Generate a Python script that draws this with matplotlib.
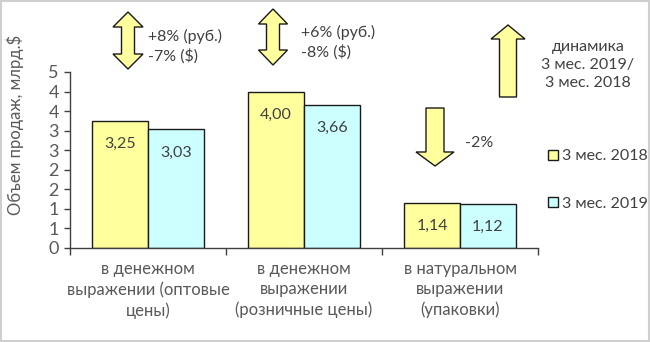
import matplotlib
matplotlib.use("Agg")
import matplotlib.pyplot as plt
from matplotlib.patches import Polygon, Rectangle, Patch
import numpy as np

plt.rcParams['font.family'] = ['Lato', 'DejaVu Sans']

categories = ["в денежном\nвыражении (оптовые\nцены)",
              "в денежном\nвыражении\n(розничные цены)",
              "в натуральном\nвыражении\n(упаковки)"]
series_names = ["3 мес. 2018", "3 мес. 2019"]
values_2018 = [3.25, 4.00, 1.14]
values_2019 = [3.03, 3.66, 1.12]
labels_2018 = ["3,25", "4,00", "1,14"]
labels_2019 = ["3,03", "3,66", "1,12"]
yticks = [0, 0.5, 1, 1.5, 2, 2.5, 3, 3.5, 4, 4.5]
ytick_labels = ["0", "1", "1", "2", "2", "3", "3", "4", "4", "5"]
ylabel = "Объем продаж, млрд.$"
change_texts = ["+8% (руб.)\n-7% ($)", "+6% (руб.)\n-8% ($)", "-2%"]
note_text = "динамика\n3 мес. 2019/\n3 мес. 2018"

W, H = 650, 342
YEL = "#FFFF9E"
CYA = "#CCFFFF"
GRAY = "#595959"
DARK = "#404040"

fig = plt.figure(figsize=(W / 100, H / 100), dpi=100)
ax = fig.add_axes([70 / W, 1 - 248 / H, (538 - 70) / W, (248 - 72) / H])

x = np.arange(len(categories))
bw = 0.356
b1 = ax.bar(x - bw / 2, values_2018, bw, color=YEL, edgecolor="#1a1a1a", linewidth=1.0)
b2 = ax.bar(x + bw / 2, values_2019, bw, color=CYA, edgecolor="#1a1a1a", linewidth=1.0)

for bars, labs in ((b1, labels_2018), (b2, labels_2019)):
    for r, t in zip(bars, labs):
        ax.annotate(t, (r.get_x() + r.get_width() / 2, r.get_height()),
                    xytext=(0, -16.5), textcoords="offset points",
                    ha="center", va="center", fontsize=11.5, color=DARK)

ax.set_xlim(-0.5, 2.5)
ax.set_ylim(0, 4.5)
ax.set_yticks(yticks)
ax.set_yticklabels(ytick_labels)
ax.set_xticks([-0.5, 0.5, 1.5, 2.5])
ax.set_xticklabels([])
ax.tick_params(axis="x", direction="out", length=5, width=1, color="#404040")
ax.tick_params(axis="y", direction="out", length=4, width=1, color="#404040",
               labelsize=13, labelcolor=GRAY, pad=4)
for s in ("top", "right"):
    ax.spines[s].set_visible(False)
for s in ("left", "bottom"):
    ax.spines[s].set_color("#404040")
    ax.spines[s].set_linewidth(1)

for xi, c in zip(x, categories):
    ax.text(xi, -0.34, c, ha="center", va="top", fontsize=12, color=GRAY,
            linespacing=1.3, transform=ax.transData)

fig.text(15 / W, 1 - 125 / H, ylabel, rotation=90, ha="center", va="center",
         fontsize=12, color=GRAY)

# decorative arrows (pixel coords -> figure fraction)
def to_fig(pts):
    return [(px / W, 1 - py / H) for px, py in pts]

def up_arrow(cx, top, bot, hw, sw, hh):
    return [(cx, top), (cx + hw / 2, top + hh), (cx + sw / 2, top + hh),
            (cx + sw / 2, bot), (cx - sw / 2, bot), (cx - sw / 2, top + hh),
            (cx - hw / 2, top + hh)]

def down_arrow(cx, top, bot, hw, sw, hh):
    return [(cx - sw / 2, top), (cx + sw / 2, top), (cx + sw / 2, bot - hh),
            (cx + hw / 2, bot - hh), (cx, bot), (cx - hw / 2, bot - hh),
            (cx - sw / 2, bot - hh)]

def double_arrow(cx, top, bot, hw, sw, hh):
    return [(cx, top), (cx + hw / 2, top + hh), (cx + sw / 2, top + hh),
            (cx + sw / 2, bot - hh), (cx + hw / 2, bot - hh), (cx, bot),
            (cx - hw / 2, bot - hh), (cx - sw / 2, bot - hh),
            (cx - sw / 2, top + hh), (cx - hw / 2, top + hh)]

shapes = [double_arrow(128, 12, 69, 30, 13, 15),
          double_arrow(273, 9, 65, 29, 13, 15),
          up_arrow(508, 25, 97, 34, 17, 14),
          down_arrow(435, 108, 166, 38, 18, 14)]
for sh in shapes:
    fig.patches.append(Polygon(to_fig(sh), closed=True, transform=fig.transFigure,
                               facecolor=YEL, edgecolor="#1a1a1a", linewidth=1.0))

fig.text(148 / W, 1 - 46 / H, change_texts[0], ha="left", va="center",
         fontsize=11.5, color=DARK, linespacing=1.35)
fig.text(301 / W, 1 - 42 / H, change_texts[1], ha="left", va="center",
         fontsize=11.5, color=DARK, linespacing=1.35)
fig.text(465 / W, 1 - 143 / H, change_texts[2], ha="left", va="center",
         fontsize=11.5, color=DARK)
fig.text(588 / W, 1 - 65 / H, note_text, ha="center", va="center",
         fontsize=11.5, color=DARK, linespacing=1.35)

handles = [Patch(facecolor=YEL, edgecolor="#1a1a1a", linewidth=1.0),
           Patch(facecolor=CYA, edgecolor="#1a1a1a", linewidth=1.0)]
fig.legend(handles, series_names, loc="center left",
           bbox_to_anchor=(548 / W, 1 - 180 / H), frameon=False,
           handlelength=0.6, handleheight=0.6, handletextpad=0.25,
           labelspacing=2.1, borderpad=0, borderaxespad=0,
           prop={"size": 11.5}, labelcolor=DARK)

fig.patches.append(Rectangle((0.001, 0.002), 0.997, 0.995, transform=fig.transFigure,
                             fill=False, edgecolor="#cfcfcf", linewidth=1.5))

fig.savefig("out.png", dpi=100)
